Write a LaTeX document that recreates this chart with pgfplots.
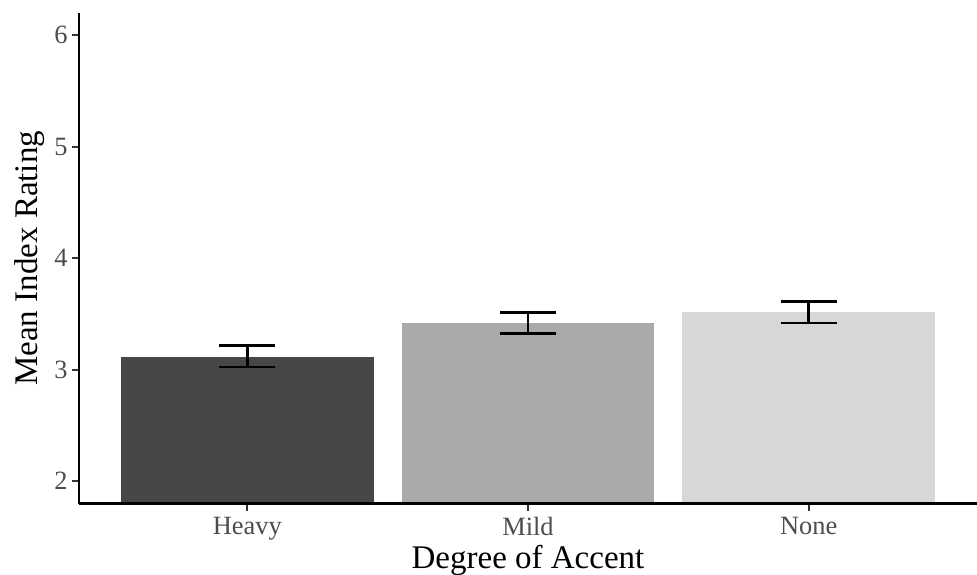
\documentclass[border=0pt]{standalone}
\usepackage{pgfplots}
\pgfplotsset{compat=1.18}
\usepackage{fontspec}
\setmainfont{Liberation Serif}
\definecolor{cHeavy}{HTML}{474747}
\definecolor{cMild}{HTML}{AAAAAA}
\definecolor{cNone}{HTML}{D7D7D7}
\definecolor{tickgray}{HTML}{333333}
\definecolor{labelgray}{HTML}{4D4D4D}
\begin{document}
\begin{tikzpicture}
\begin{axis}[
  at={(0,0)}, anchor=south west,
  scale only axis, width=449pt, height=245.25pt,
  xmin=0.4, xmax=3.6, ymin=1.8, ymax=6.2,
  axis x line*=bottom, axis y line*=left,
  axis line style={line width=1.3pt, black},
  xtick={1,2,3}, xticklabels={Heavy,Mild,None},
  ytick={2,3,4,5,6},
  tick align=outside, major tick length=3.5pt,
  tick style={line width=1.1pt, color=tickgray},
  ticklabel style={font=\fontsize{13.2}{15}\selectfont, text=labelgray},
  yticklabel style={inner sep=2pt},
  xticklabel style={inner sep=3.3pt},
  /pgf/number format/assume math mode=true,
  xlabel={Degree of Accent}, ylabel={Mean Index Rating},
  label style={font=\fontsize{16.5}{19}\selectfont, text=black},
  xlabel style={at={(axis description cs:0.5,0)}, anchor=base, yshift=-32.25pt},
  ylabel style={at={(axis description cs:0,0.5)}, anchor=center, yshift=24.5pt},
  axis on top,
  clip=true,
]
\addplot[ybar, bar width=0.9, bar shift=0pt, fill=cHeavy, draw=none] coordinates {(1,3.116)};
\addplot[ybar, bar width=0.9, bar shift=0pt, fill=cMild, draw=none] coordinates {(2,3.415)};
\addplot[ybar, bar width=0.9, bar shift=0pt, fill=cNone, draw=none] coordinates {(3,3.514)};
\addplot[draw=none, mark=none, forget plot,
  error bars/.cd, y dir=both, y explicit, error mark=|,
  error bar style={draw=black, solid, line width=1.4pt},
  error mark options={draw=black, line width=1.4pt, mark size=14pt}]
  coordinates {(1,3.12) +- (0,0.095) (2,3.418) +- (0,0.096) (3,3.514) +- (0,0.095)};
\end{axis}
\pgfresetboundingbox
\path (-39.5pt,-35.25pt) rectangle (449pt,251.75pt);
\end{tikzpicture}
\end{document}
